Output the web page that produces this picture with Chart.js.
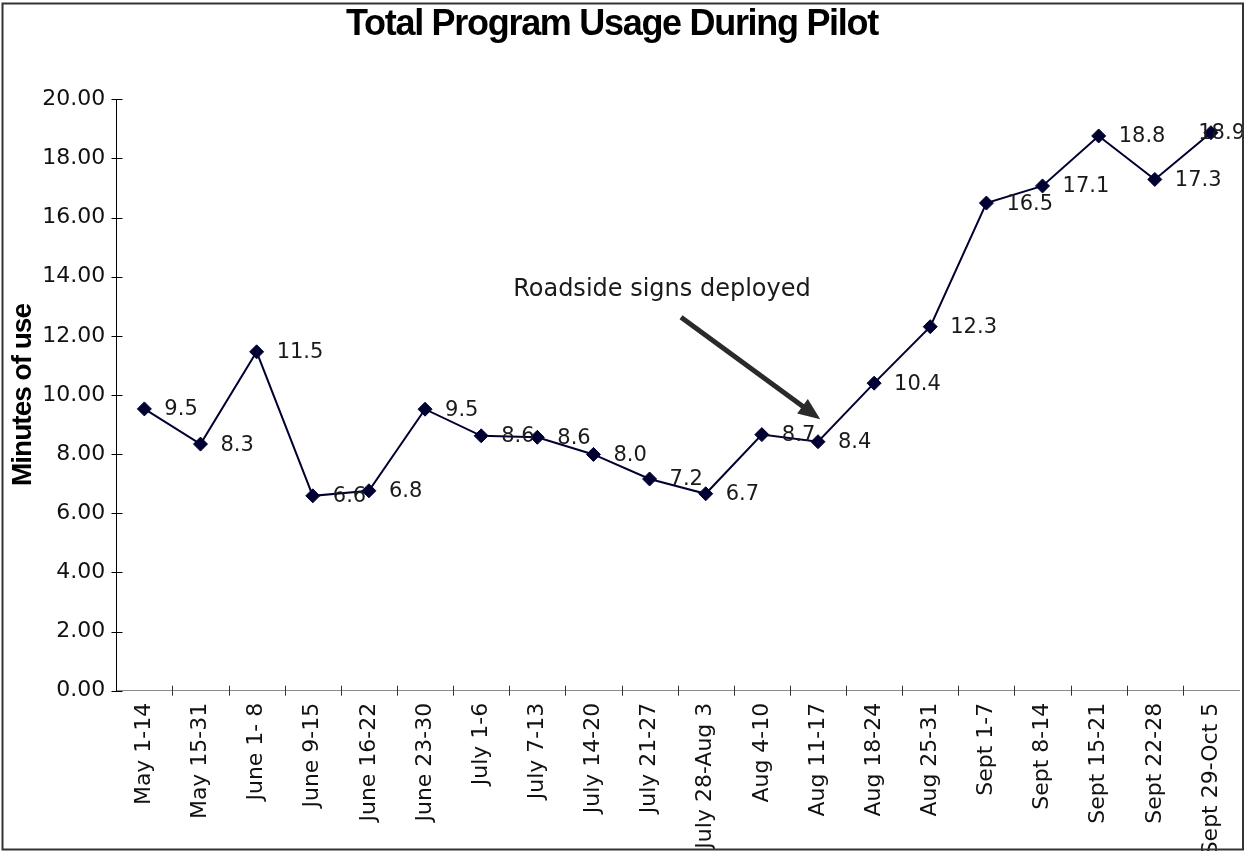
<!DOCTYPE html>
<html>
<head>
<meta charset="utf-8">
<script src="https://cdn.jsdelivr.net/npm/chart.js@4/dist/chart.umd.min.js"></script>
<style>
html, body { margin: 0; padding: 0; background: #fff; }
#wrap { width: 1247px; height: 851px; position: relative; }
</style>
</head>
<body>
<div id="wrap"><canvas id="c" width="1247" height="851"></canvas></div>
<script>
// ---- data ----
const categories = [
  'May 1-14', 'May 15-31', 'June 1- 8', 'June 9-15', 'June 16-22', 'June 23-30',
  'July 1-6', 'July 7-13', 'July 14-20', 'July 21-27', 'July 28-Aug 3', 'Aug 4-10',
  'Aug 11-17', 'Aug 18-24', 'Aug 25-31', 'Sept 1-7', 'Sept 8-14', 'Sept 15-21',
  'Sept 22-28', 'Sept 29-Oct 5'
];
const minutesOfUse = [
  9.53, 8.34, 11.46, 6.59, 6.76, 9.52, 8.62, 8.57, 7.99, 7.16,
  6.66, 8.66, 8.42, 10.40, 12.31, 16.49, 17.07, 18.76, 17.29, 18.87
];
const yTickValues = [0, 2, 4, 6, 8, 10, 12, 14, 16, 18, 20];
const chartTitle = 'Total Program Usage During Pilot';
const yAxisTitle = 'Minutes of use';
const annotationText = 'Roadside signs deployed';
const annotationTextAt = [9.22, 13.55];      // [category index, value]
const annotationArrowFrom = [9.56, 12.63];
const annotationArrowTo = [12.04, 9.18];

// ---- styling ----
const FONT = "'DejaVu Sans', sans-serif";
const TFONT = "'Liberation Sans', Arial, sans-serif";
const LINE_COLOR = '#000033';

const decor = {
  id: 'decor',
  beforeDraw(chart) {
    const ctx = chart.ctx;
    ctx.save();
    ctx.fillStyle = '#ffffff';
    ctx.fillRect(0, 0, chart.width, chart.height);
    ctx.restore();
  },
  afterDatasetsDraw(chart) {
    const { ctx } = chart;
    const meta = chart.getDatasetMeta(0);
    ctx.save();
    ctx.font = '21px ' + FONT;
    ctx.fillStyle = '#1a1a1a';
    ctx.textAlign = 'left';
    ctx.textBaseline = 'middle';
    meta.data.forEach((pt, i) => {
      const txt = minutesOfUse[i].toFixed(1);
      const w = ctx.measureText(txt).width;
      let tx = pt.x + 20;
      if (tx + w > chart.width - 2) tx = chart.width - 2 - w;
      ctx.fillText(txt, tx, pt.y + 1);
    });
    ctx.restore();
  },
  afterDraw(chart) {
    const { ctx, chartArea } = chart;
    const x = chart.scales.x, y = chart.scales.y;
    ctx.save();
    // chart title
    ctx.save();
    ctx.font = 'bold 36px ' + TFONT;
    ctx.letterSpacing = '-1.3px';
    ctx.fillStyle = '#000';
    ctx.textAlign = 'center';
    ctx.textBaseline = 'alphabetic';
    ctx.fillText(chartTitle, 612, 35);
    ctx.restore();
    // y-axis title
    ctx.save();
    ctx.translate(31, (chartArea.top + chartArea.bottom) / 2);
    ctx.rotate(-Math.PI / 2);
    ctx.font = 'bold 28px ' + TFONT;
    ctx.letterSpacing = '-1px';
    ctx.fillStyle = '#000';
    ctx.textAlign = 'center';
    ctx.textBaseline = 'alphabetic';
    ctx.fillText(yAxisTitle, 0, 0);
    ctx.restore();
    // y-axis tick marks (crossing the axis)
    ctx.strokeStyle = '#000';
    ctx.lineWidth = 1;
    const ax = Math.round(chartArea.left) + 0.5;
    yTickValues.forEach(v => {
      const py = Math.round(y.getPixelForValue(v)) + 0.5;
      ctx.beginPath();
      ctx.moveTo(ax - 5, py);
      ctx.lineTo(ax + 6, py);
      ctx.stroke();
    });
    // x-axis tick marks between categories (crossing the axis)
    ctx.strokeStyle = '#333';
    const by = chartArea.bottom;
    for (let k = 1; k < categories.length; k++) {
      const px = Math.round(x.getPixelForValue(k - 0.5)) + 0.5;
      ctx.beginPath();
      ctx.moveTo(px, by - 5);
      ctx.lineTo(px, by + 5);
      ctx.stroke();
    }
    // annotation text
    ctx.font = '24px ' + FONT;
    ctx.fillStyle = '#1a1a1a';
    ctx.textAlign = 'center';
    ctx.textBaseline = 'middle';
    ctx.fillText(annotationText, x.getPixelForValue(annotationTextAt[0]), y.getPixelForValue(annotationTextAt[1]));
    // annotation arrow
    const x0 = x.getPixelForValue(annotationArrowFrom[0]);
    const y0 = y.getPixelForValue(annotationArrowFrom[1]);
    const x1 = x.getPixelForValue(annotationArrowTo[0]);
    const y1 = y.getPixelForValue(annotationArrowTo[1]);
    const dx = x1 - x0, dy = y1 - y0;
    const L = Math.hypot(dx, dy);
    const ux = dx / L, uy = dy / L;
    const headLen = 22, headHalf = 9;
    ctx.strokeStyle = '#2a2a2a';
    ctx.fillStyle = '#2a2a2a';
    ctx.lineWidth = 5;
    ctx.lineCap = 'butt';
    ctx.beginPath();
    ctx.moveTo(x0, y0);
    ctx.lineTo(x1 - ux * (headLen - 4), y1 - uy * (headLen - 4));
    ctx.stroke();
    const bx = x1 - ux * headLen, byy = y1 - uy * headLen;
    ctx.beginPath();
    ctx.moveTo(x1, y1);
    ctx.lineTo(bx - uy * headHalf, byy + ux * headHalf);
    ctx.lineTo(bx + uy * headHalf, byy - ux * headHalf);
    ctx.closePath();
    ctx.fill();
    // outer border
    ctx.strokeStyle = '#333';
    ctx.lineWidth = 2;
    ctx.strokeRect(2.5, 3.5, 1240.5, 846);
    ctx.restore();
  }
};

new Chart(document.getElementById('c'), {
  type: 'line',
  data: {
    labels: categories,
    datasets: [{
      data: minutesOfUse,
      borderColor: LINE_COLOR,
      borderWidth: 2,
      pointStyle: 'rectRot',
      pointRadius: 7,
      pointBackgroundColor: LINE_COLOR,
      pointBorderColor: LINE_COLOR,
      pointBorderWidth: 1,
      tension: 0,
      fill: false
    }]
  },
  options: {
    responsive: false,
    animation: false,
    devicePixelRatio: 1,
    layout: { padding: { top: 99.3, left: 0, right: 0, bottom: 0 } },
    plugins: {
      legend: { display: false },
      tooltip: { enabled: false },
      title: { display: false }
    },
    scales: {
      x: {
        type: 'category',
        offset: true,
        grid: { display: false, drawTicks: false },
        border: { display: true, color: '#8a8a8a', width: 1 },
        ticks: {
          autoSkip: false, maxRotation: 90, minRotation: 90, padding: 12,
          color: '#111', font: { family: FONT, size: 22 }
        },
        afterFit(s) { s.height = 160.3; s.paddingLeft = 0; s.paddingRight = 0; }
      },
      y: {
        min: 0, max: 20,
        grid: { display: false, drawTicks: false },
        border: { display: true, color: '#000', width: 1 },
        afterBuildTicks(s) { s.ticks = yTickValues.map(v => ({ value: v })); },
        ticks: {
          padding: 11, color: '#111', font: { family: FONT, size: 22 },
          callback: (v) => Number(v).toFixed(2)
        },
        title: { display: false },
        afterFit(s) { s.width = 116.3; }
      }
    }
  },
  plugins: [decor]
});
</script>
</body>
</html>
